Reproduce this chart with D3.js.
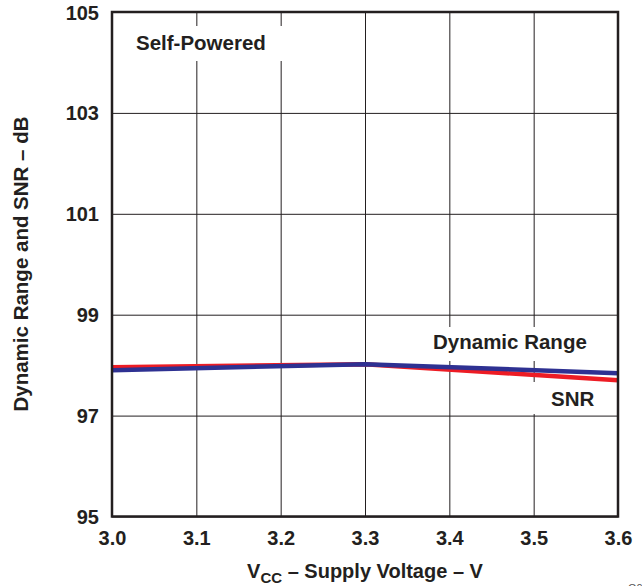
<!DOCTYPE html>
<html>
<head>
<meta charset="utf-8">
<script src="https://cdn.jsdelivr.net/npm/d3@7"></script>
<style>
  html, body { margin: 0; padding: 0; background: #fff; }
  svg { display: block; }
</style>
</head>
<body>
<svg id="chart"></svg>
<script>
// Values
const voltage = [3.0, 3.3, 3.6];
const dynamicRange = [97.90, 98.02, 97.84];
const snr = [97.96, 98.02, 97.70];
const xTicks = [3.0, 3.1, 3.2, 3.3, 3.4, 3.5, 3.6];
const yTicks = [95, 97, 99, 101, 103, 105];

const totalWidth = 642;
const totalHeight = 586;
const margin = { top: 12, left: 112 };
const width = 506;
const height = 504.5;
const ink = '#231f20';
const font = '"Liberation Sans", Arial, Helvetica, sans-serif';

const root = d3.select('#chart')
  .attr('width', totalWidth)
  .attr('height', totalHeight)
  .style('font-family', font);

root.append('rect')
  .attr('width', totalWidth)
  .attr('height', totalHeight)
  .attr('fill', '#fff');

const svg = root.append('g')
  .attr('transform', `translate(${margin.left},${margin.top})`);

// Scales
const x = d3.scaleLinear().domain([3.0, 3.6]).range([0, width]);
const y = d3.scaleLinear().domain([95, 105]).range([height, 0]);

// Grid lines
svg.append('g')
  .attr('transform', `translate(0,${height})`)
  .call(d3.axisBottom(x).tickValues(xTicks).tickSize(-height).tickFormat(''))
  .call(g => g.select('.domain').remove());

svg.append('g')
  .call(d3.axisLeft(y).tickValues(yTicks).tickSize(-width).tickFormat(''))
  .call(g => g.select('.domain').remove());

svg.selectAll('.tick line')
  .attr('stroke', ink)
  .attr('stroke-width', 1);

// White boxes behind the labels (they break the grid)
const labels = [
  { text: 'Self-Powered', tx: 24, ty: 38, box: [10, 14, 170, 35] },
  { text: 'Dynamic Range', tx: 321, ty: 337, box: [313, 315, 175, 34] },
  { text: 'SNR', tx: 439, ty: 394, box: [413, 370, 80, 32] }
];

svg.selectAll('.label-box')
  .data(labels)
  .enter()
  .append('rect')
  .attr('class', 'label-box')
  .attr('x', d => d.box[0])
  .attr('y', d => d.box[1])
  .attr('width', d => d.box[2])
  .attr('height', d => d.box[3])
  .attr('fill', '#fff');

// Curves (red under blue)
const line = d3.line()
  .x(d => x(d[0]))
  .y(d => y(d[1]));

svg.append('path')
  .datum(d3.zip(voltage, snr))
  .attr('d', line)
  .attr('fill', 'none')
  .attr('stroke', '#ed1c24')
  .attr('stroke-width', 4.5);

svg.append('path')
  .datum(d3.zip(voltage, dynamicRange))
  .attr('d', line)
  .attr('fill', 'none')
  .attr('stroke', '#2e3192')
  .attr('stroke-width', 4.5);

svg.selectAll('.label')
  .data(labels)
  .enter()
  .append('text')
  .attr('class', 'label')
  .attr('x', d => d.tx)
  .attr('y', d => d.ty)
  .attr('fill', ink)
  .attr('font-size', '20.5px')
  .attr('font-weight', 'bold')
  .text(d => d.text);

// Plot border
svg.append('rect')
  .attr('width', width)
  .attr('height', height)
  .attr('fill', 'none')
  .attr('stroke', ink)
  .attr('stroke-width', 2.5);

// Tick labels
svg.append('g')
  .attr('transform', `translate(0,${height})`)
  .call(d3.axisBottom(x).tickValues(xTicks).tickSize(0).tickFormat(d3.format('.1f')))
  .call(g => g.select('.domain').remove())
  .selectAll('text')
  .attr('y', 28.5)
  .attr('dy', 0)
  .attr('fill', ink)
  .attr('font-size', '20px')
  .attr('font-weight', 'bold')
  .attr('font-family', font);

svg.append('g')
  .call(d3.axisLeft(y).tickValues(yTicks).tickSize(0).tickFormat(d3.format('d')))
  .call(g => g.select('.domain').remove())
  .selectAll('text')
  .attr('x', -13)
  .attr('dy', '0.35em')
  .attr('fill', ink)
  .attr('font-size', '20px')
  .attr('font-weight', 'bold')
  .attr('font-family', font);

// Axis titles
const xTitle = root.append('text')
  .attr('x', margin.left + width / 2)
  .attr('y', 578)
  .attr('text-anchor', 'middle')
  .attr('fill', ink)
  .attr('font-size', '20px')
  .attr('font-weight', 'bold');
xTitle.append('tspan').text('V');
xTitle.append('tspan').attr('font-size', '15px').attr('dy', 5).text('CC');
xTitle.append('tspan').attr('dy', -5).text(' – Supply Voltage – V');

root.append('text')
  .attr('transform', 'translate(28,264) rotate(-90)')
  .attr('text-anchor', 'middle')
  .attr('fill', ink)
  .attr('font-size', '20.5px')
  .attr('font-weight', 'bold')
  .text('Dynamic Range and SNR – dB');

// Figure id, clipped at the bottom edge
root.append('text')
  .attr('x', 628)
  .attr('y', 592)
  .attr('fill', '#555')
  .attr('font-size', '11px')
  .text('G01');
</script>
</body>
</html>
